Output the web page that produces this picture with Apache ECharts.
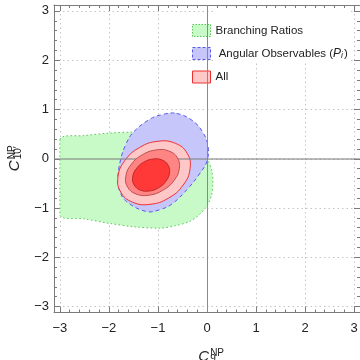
<!DOCTYPE html>
<html><head><meta charset="utf-8">
<script src="https://cdn.jsdelivr.net/npm/echarts@6/dist/echarts.min.js"></script>
<style>html,body{margin:0;padding:0;background:#fff}#c{width:360px;height:360px}</style>
</head><body><div id="c"></div>
<script>
// ---- data ----
const tickValues = [-3, -2, -1, 0, 1, 2, 3];
const tickLabels = ['\u22123', '\u22122', '\u22121', '0', '1', '2', '3'];
const minorTickValues = [-3,-2.8,-2.6,-2.4,-2.2,-2,-1.8,-1.6,-1.4,-1.2,-1,-0.8,-0.6,-0.4,-0.2,0,0.2,0.4,0.6,0.8,1,1.2,1.4,1.6,1.8,2,2.2,2.4,2.6,2.8,3];
const axisMin = -3.12, axisMax = 3.12;

const branchingRatios = [
  [-3, 0.39], [-2.5, 0.47], [-2, 0.52], [-1.5, 0.54], [-1.0, 0.52], [-0.6, 0.42], [-0.3, 0.29],
  [-0.12, 0.17], [0.02, -0.03], [0.1, -0.25], [0.12, -0.49], [0.09, -0.75], [-0.01, -0.97],
  [-0.15, -1.13], [-0.35, -1.27], [-0.65, -1.36], [-0.97, -1.41], [-1.5, -1.38], [-2, -1.31],
  [-2.5, -1.22], [-3, -1.14]
];
const angularObs = [
  [-0.62, 0.92], [-0.29, 0.77], [-0.08, 0.53], [0.02, 0.26], [0.0, -0.05], [-0.17, -0.33],
  [-0.35, -0.56], [-0.69, -0.9], [-0.95, -1.03], [-1.24, -1.07], [-1.64, -0.87], [-1.78, -0.66],
  [-1.82, -0.42], [-1.76, -0.01], [-1.66, 0.28], [-1.51, 0.53], [-1.17, 0.80], [-0.9, 0.9]
];
const allOuter = [
  [-0.402, 0.107], [-0.641, 0.311], [-0.997, 0.355], [-1.376, 0.228], [-1.675, -0.037], [-1.815, -0.368],
  [-1.758, -0.677], [-1.519, -0.881], [-1.163, -0.925], [-0.784, -0.798], [-0.485, -0.533], [-0.345, -0.202]
];
const allMiddle = [
  [-0.601, 0.014], [-0.773, 0.155], [-1.036, 0.179], [-1.318, 0.08], [-1.545, -0.115], [-1.655, -0.355],
  [-1.619, -0.574], [-1.447, -0.715], [-1.184, -0.739], [-0.902, -0.64], [-0.675, -0.445], [-0.565, -0.205]
];
const allInner = [
  [-0.794, -0.13], [-0.915, -0.027], [-1.097, -0.005], [-1.29, -0.07], [-1.443, -0.205], [-1.515, -0.373],
  [-1.486, -0.53], [-1.365, -0.633], [-1.183, -0.655], [-0.99, -0.59], [-0.837, -0.455], [-0.765, -0.287]
];
const legendNames = ['Branching Ratios', 'Angular Observables', 'All'];

// ---- chart ----
const FONT = '"Liberation Sans", Arial, sans-serif';
const GRAY = '#7a7a7a';
function fmtTick(v) {
  const i = tickValues.findIndex(t => Math.abs(t - v) < 1e-6);
  return i >= 0 ? tickLabels[i] : '';
}
function polySeries(name, pts, fill, stroke, dash, width, z, smooth, constrain) {
  return {
    type: 'custom', name: name, coordinateSystem: 'cartesian2d', xAxisIndex: 0, yAxisIndex: 0,
    z: z, silent: true, data: [0],
    itemStyle: { color: fill, borderColor: stroke },
    renderItem: function (params, api) {
      const shape = { points: pts.map(p => api.coord(p)), smooth: smooth };
      if (constrain) shape.smoothConstraint = [[1e9, 1e9], [-1e9, -1e9]];
      return { type: 'polygon', shape: shape,
        style: { fill: fill, stroke: stroke, lineWidth: width, lineDash: dash } };
    }
  };
}
function xAx(pos, major) {
  return {
    type: 'value', position: pos, min: axisMin, max: axisMax, minInterval: 1, maxInterval: 1,
    axisLine: { show: major, onZero: false, lineStyle: { color: GRAY, width: 1 } },
    axisTick: major ? { show: true, inside: true, length: 6, customValues: tickValues, lineStyle: { color: GRAY } }
                    : { show: true, inside: true, length: 3, customValues: minorTickValues, lineStyle: { color: GRAY } },
    axisLabel: { show: major && pos === 'bottom', formatter: fmtTick, fontFamily: FONT, fontSize: 13, color: '#222', margin: 9 },
    splitLine: { show: major && pos === 'bottom', lineStyle: { color: '#c4c4c4', type: [1.5, 3] } }
  };
}
function yAx(pos, major) {
  return {
    type: 'value', position: pos, min: axisMin, max: axisMax, minInterval: 1, maxInterval: 1,
    axisLine: { show: major, onZero: false, lineStyle: { color: GRAY, width: 1 } },
    axisTick: major ? { show: true, inside: true, length: 6, customValues: tickValues, lineStyle: { color: GRAY } }
                    : { show: true, inside: true, length: 3, customValues: minorTickValues, lineStyle: { color: GRAY } },
    axisLabel: { show: major && pos === 'left', formatter: fmtTick, fontFamily: FONT, fontSize: 13, color: '#222', margin: 5 },
    splitLine: { show: major && pos === 'left', lineStyle: { color: '#c4c4c4', type: [1.5, 3] } }
  };
}
const nameRich = {
  c: { fontFamily: FONT, fontSize: 15, fontStyle: 'italic', color: '#222', align: 'left', padding: [0, 1, 0, 0] },
  sup: { fontFamily: FONT, fontSize: 10, color: '#222', align: 'left', verticalAlign: 'top', width: 0, padding: [0, 0, 6, 0] },
  sub: { fontFamily: FONT, fontSize: 10, color: '#222', align: 'left', verticalAlign: 'bottom', padding: [5, 0, 0, 0] }
};
const xs = [xAx('bottom', true), xAx('top', true), xAx('bottom', false), xAx('top', false)];
xs[0].name = '{c|C}{sup|NP}{sub|9}';
xs[0].nameLocation = 'middle'; xs[0].nameGap = 36;
xs[0].nameTextStyle = { rich: nameRich };
const ys = [yAx('left', true), yAx('right', true), yAx('left', false), yAx('right', false)];
ys[0].name = "{c|C}{sup|NP}{sub|10\u2032}";
ys[0].nameLocation = 'middle'; ys[0].nameGap = 27; ys[0].nameRotate = 90;
ys[0].nameTextStyle = { rich: nameRich };

const chart = echarts.init(document.getElementById('c'), null, { renderer: 'canvas' });
chart.setOption({
  animation: false,
  backgroundColor: '#fff',
  grid: { left: 54, right: 0, top: 5, bottom: 47.5, containLabel: false, outerBoundsMode: 'none' },
  xAxis: xs, yAxis: ys,
  graphic: [{ type: 'rect', z: 1, shape: { x: 216, y: 8, width: 132, height: 53 }, style: { fill: '#fff' }, silent: true }],
  legend: {
    orient: 'vertical', left: 192, top: 24, padding: 0, itemGap: 10, itemWidth: 18, itemHeight: 12,
    selectedMode: false,
    textStyle: { fontFamily: FONT, fontSize: 11.5, color: '#222',
      rich: { i: { fontFamily: FONT, fontSize: 12, fontStyle: 'italic', color: '#222' },
              s: { fontFamily: FONT, fontSize: 8.5, fontStyle: 'italic', color: '#222', verticalAlign: 'bottom', padding: [5, 1, 0, 0] } } },
    formatter: function (n) { return n === legendNames[1] ? ' Angular Observables ({i|P}{s|i})' : n; },
    data: [
      { name: legendNames[0], icon: 'rect', itemStyle: { color: '#c8fac8', borderColor: '#55c855', borderWidth: 1, borderType: [1.5, 1.5] } },
      { name: legendNames[1], icon: 'rect', itemStyle: { color: '#c6c6fb', borderColor: '#5a5aee', borderWidth: 1, borderType: [3, 2] } },
      { name: legendNames[2], icon: 'rect', itemStyle: { color: '#ffc8c8', borderColor: '#ee3030', borderWidth: 1 } }
    ]
  },
  series: [
    polySeries(legendNames[0], branchingRatios, '#c8fac8', '#55c855', [1.5, 2.5], 1, 2, 0.3, true),
    polySeries(legendNames[1], angularObs, '#c6c6fb', '#5a5aee', [4, 3], 1, 3, 0.4, false),
    polySeries(legendNames[2], allOuter, '#ffc8c8', '#ee3030', null, 1, 4, 0.45, false),
    polySeries('All 68%', allMiddle, '#ff8585', '#c05050', null, 1, 5, 0.45, false),
    polySeries('All 1sigma', allInner, '#ff3838', '#c02828', null, 1, 6, 0.45, false),
    { type: 'line', name: 'zero', xAxisIndex: 0, yAxisIndex: 0, data: [], z: 10, silent: true,
      markLine: { silent: true, symbol: 'none', label: { show: false }, animation: false,
        data: [
          { xAxis: 0, lineStyle: { color: '#8a8a8a', width: 1, type: 'solid' } },
          { yAxis: 0, lineStyle: { color: 'rgba(130,130,130,0.55)', width: 2, type: 'solid' } }
        ] } }
  ]
});
</script></body></html>
